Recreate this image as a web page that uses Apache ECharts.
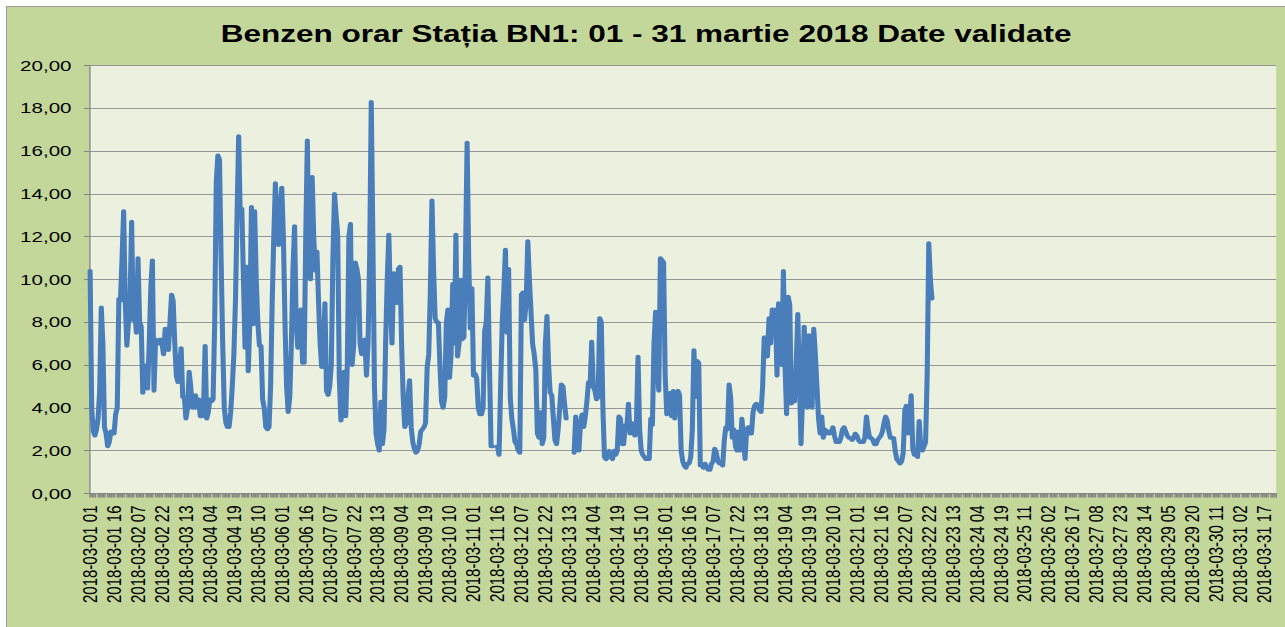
<!DOCTYPE html>
<html>
<head>
<meta charset="utf-8">
<title>Benzen orar BN1</title>
<script src="https://cdn.jsdelivr.net/npm/echarts@6/dist/echarts.min.js"></script>
<style>
  html, body { margin: 0; padding: 0; background: #fff; overflow: hidden; }
  /* chart pasted as a stretched picture: frame + horizontal stretch */
  .frame {
    position: absolute; left: 6px; top: 6px;
    width: 1279px; height: 621px;
    background: #C4D79B;
    border-left: 1px solid #9a9a9a;
    border-top: 1px solid #9a9a9a;
  }
  #chart {
    position: absolute; left: 0; top: 0;
    width: 933px; height: 620px;
    transform: scaleX(1.37);
    transform-origin: 0 0;
  }
</style>
</head>
<body>
<div class="frame"><div id="chart"></div></div>
<script>
// valori orare benzen (ug/m3), cate o lista pe zi
const zi01 = [10.4, 4.0, 2.9, 2.7, 3.0, 3.5, 4.8, 8.7, 7.0, 3.1, 2.8, 2.2, 2.4, 2.9, 2.8, 2.8, 3.7, 4.0, 9.1, 9.0, 11.0, 13.2, 9.0, 6.9]
const zi02 = [8.0, 9.0, 12.7, 8.1, 8.5, 7.5, 11.0, 8.0, 7.8, 4.7, 6.0, 5.2, 4.9, 7.0, 9.6, 10.9, 4.8, 7.2, 7.0, 7.0, 7.2, 7.0, 6.5, 7.7]
const zi03 = [7.3, 6.7, 8.0, 9.3, 9.0, 7.0, 5.5, 5.2, 6.0, 6.8, 4.5, 4.5, 3.5, 4.0, 5.7, 5.0, 4.0, 4.0, 4.6, 4.0, 4.4, 3.6, 3.6, 4.0]
const zi04 = [6.9, 3.5, 3.8, 4.4, 4.3, 4.4, 8.0, 14.6, 15.8, 15.6, 11.0, 7.0, 4.0, 3.3, 3.1, 3.1, 3.8, 5.0, 6.5, 9.0, 13.0, 16.7, 12.9, 13.3]
const zi05 = [10.0, 6.8, 10.6, 5.7, 8.0, 13.4, 7.9, 13.2, 10.0, 8.0, 6.9, 6.9, 4.4, 4.0, 3.1, 3.0, 3.1, 5.0, 9.0, 12.0, 14.5, 12.5, 11.6, 13.4]
const zi06 = [14.3, 12.0, 8.0, 5.0, 3.8, 4.5, 7.0, 10.5, 12.5, 8.0, 6.8, 7.0, 8.6, 6.1, 6.1, 12.0, 16.5, 10.5, 10.0, 14.8, 12.0, 10.4, 11.3, 9.0]
const zi07 = [7.0, 5.9, 6.4, 8.9, 4.8, 4.6, 5.0, 6.0, 11.0, 14.0, 13.0, 12.1, 5.4, 3.4, 4.0, 5.7, 3.6, 6.0, 12.0, 12.6, 6.0, 6.9, 10.8, 10.5]
const zi08 = [10.0, 7.0, 6.5, 6.8, 7.2, 5.5, 7.0, 11.0, 18.3, 12.0, 5.0, 2.8, 2.3, 2.0, 4.3, 2.3, 3.0, 7.0, 10.0, 12.1, 9.0, 7.0, 10.3, 9.0]
const zi09 = [8.9, 10.5, 10.6, 7.0, 4.5, 3.1, 3.3, 4.5, 5.3, 3.1, 2.4, 2.1, 1.9, 2.0, 2.3, 2.9, 3.0, 3.1, 3.3, 5.9, 6.5, 9.5, 13.7, 10.5]
const zi10 = [8.2, 8.0, 8.0, 6.0, 4.3, 4.0, 4.5, 8.0, 8.6, 5.4, 6.5, 9.8, 7.0, 12.1, 6.4, 7.0, 10.0, 7.2, 7.3, 11.0, 16.4, 11.0, 7.7, 9.6]
const zi11 = [5.5, 5.6, 5.4, 4.0, 3.7, 3.7, 4.0, 7.6, 8.0, 10.1, 6.0, 2.2, 2.2, null, null, 2.2, 1.8, 5.0, 8.0, 9.5, 11.4, 7.5, 10.5, 4.5]
const zi12 = [3.5, 3.0, 2.4, 2.3, 2.0, 1.9, 9.3, 9.4, 8.1, 9.0, 11.8, 10.0, 8.5, 7.0, 6.5, 5.8, 2.8, 2.6, 3.8, 2.3, 2.6, 7.0, 8.3, 6.0]
const zi13 = [4.7, 4.6, 3.5, 2.5, 2.3, 3.0, 4.0, 5.1, 5.0, 4.2, 3.5, null, null, null, null, 1.9, 3.6, 2.5, 2.0, 3.3, 3.7, 3.1, 3.6, 4.3]
const zi14 = [5.2, 5.0, 7.1, 5.0, 4.8, 4.4, 4.5, 8.2, 8.0, 4.0, 1.7, 1.6, 1.7, 2.0, 1.8, 1.6, 2.0, 1.8, 2.0, 3.6, 3.5, 2.3, 2.3, 3.2]
const zi15 = [3.1, 4.2, 2.8, 3.3, 3.0, 2.7, 3.3, 6.4, 3.0, 2.0, 1.8, 1.7, 1.6, 1.6, 1.6, 3.5, 3.2, 7.0, 8.5, 6.0, 4.8, 11.0, 10.9, 10.8]
const zi16 = [5.5, 3.7, 4.4, 4.7, 3.6, 4.8, 3.5, 4.6, 4.8, 4.6, 2.0, 1.5, 1.3, 1.2, 1.4, 1.4, 1.7, 3.0, 6.7, 4.5, 6.2, 6.1, 1.3, 1.3]
const zi17 = [1.2, 1.4, 1.2, 1.1, 1.1, 1.4, 1.5, 2.1, 1.9, 1.5, 1.4, 1.5, 1.3, 2.5, 3.1, 3.0, 5.1, 4.5, 2.6, 3.0, 2.2, 2.0, 2.9, 2.0]
const zi18 = [3.5, 2.6, 1.6, 3.0, 3.1, 2.8, 2.8, 3.8, 4.1, 4.2, 4.1, 3.9, 3.8, 5.0, 7.3, 7.3, 6.4, 8.2, 7.0, 8.6, 8.5, 8.6, 5.5, 8.9]
const zi19 = [8.6, 6.0, 10.4, 6.0, 3.7, 9.2, 8.8, 4.2, 4.4, 4.3, 6.0, 8.4, 5.5, 2.3, 4.5, 7.8, 6.0, 4.0, 7.4, 7.0, 4.0, 7.7, 6.5, 5.0]
const zi20 = [3.5, 2.8, 3.6, 2.6, 3.0, 2.8, 2.9, 2.8, 2.9, 3.1, 2.7, 2.4, 2.4, 2.4, 2.6, 3.0, 3.1, 2.9, 2.7, 2.6, 2.6, 2.5, 2.6, 2.8]
const zi21 = [2.7, 2.5, 2.4, 2.4, 2.4, 2.6, 3.6, 3.0, 2.6, 2.6, 2.5, 2.3, 2.3, 2.5, 2.6, 2.7, 2.9, 3.3, 3.6, 3.4, 2.9, 2.6, 2.6, 2.6]
const zi22 = [2.0, 1.6, 1.5, 1.4, 1.5, 1.9, 3.9, 4.1, 2.8, 3.5, 4.6, 2.1, 1.8, 1.8, 1.7, 3.4, 2.2, 2.0, 2.2, 2.4, 5.5, 11.7, 10.0, 9.1]

const yTicks = [0, 2, 4, 6, 8, 10, 12, 14, 16, 18, 20]

// categorii orare 01..24, fara ora sarita la trecerea la ora de vara (25 martie)
const ore = []
for (let d = 1; d <= 31; d++) {
  for (let h = 1; h <= 24; h++) {
    if (d === 25 && h === 4) continue
    ore.push('2018-03-' + String(d).padStart(2, '0') + ' ' + String(h).padStart(2, '0'))
  }
}

const benzen = [].concat(zi01, zi02, zi03, zi04, zi05, zi06, zi07, zi08, zi09, zi10, zi11,
  zi12, zi13, zi14, zi15, zi16, zi17, zi18, zi19, zi20, zi21, zi22)

const S = 1.37 // horizontal stretch of the picture
const font = '"Liberation Sans", Arial, sans-serif'

const chart = echarts.init(document.getElementById('chart'), null, { renderer: 'svg' })
chart.setOption({
  animation: false,
  backgroundColor: 'transparent',
  title: {
    text: 'Benzen orar Stația BN1: 01 - 31 martie 2018 Date validate',
    left: 'center',
    top: 11,
    textStyle: { fontFamily: font, fontSize: 23, fontWeight: 'bold', color: '#000' }
  },
  grid: {
    show: true,
    backgroundColor: '#EBF1DE',
    borderWidth: 0,
    left: (89.3 - 7) / S,
    right: 9 / S,
    top: 58.5,
    bottom: 133.5
  },
  xAxis: {
    type: 'category',
    data: ore,
    boundaryGap: true,
    axisLine: { lineStyle: { color: '#868686', width: 1 } },
    axisTick: { show: true, interval: 0, length: 4, lineStyle: { color: '#868686' } },
    axisLabel: {
      interval: 14,
      rotate: 90,
      margin: 12,
      fontFamily: font,
      fontSize: 15,
      color: '#000'
    },
    splitLine: { show: false }
  },
  yAxis: {
    type: 'value',
    min: yTicks[0],
    max: yTicks[yTicks.length - 1],
    interval: 2,
    axisLine: { show: true, lineStyle: { color: '#868686' } },
    axisTick: { show: true, length: 4, lineStyle: { color: '#868686' } },
    axisLabel: {
      margin: 13,
      fontFamily: font,
      fontSize: 15,
      color: '#000',
      formatter: v => v.toFixed(2).replace('.', ',')
    },
    splitLine: { lineStyle: { color: '#969696', width: 1 } }
  },
  series: [{
    name: 'Benzen',
    type: 'line',
    data: benzen,
    showSymbol: false,
    connectNulls: false,
    lineStyle: { color: '#4A7EBB', width: 3.7, cap: 'round', join: 'round' },
    itemStyle: { color: '#4A7EBB' }
  }]
})
</script>
</body>
</html>
